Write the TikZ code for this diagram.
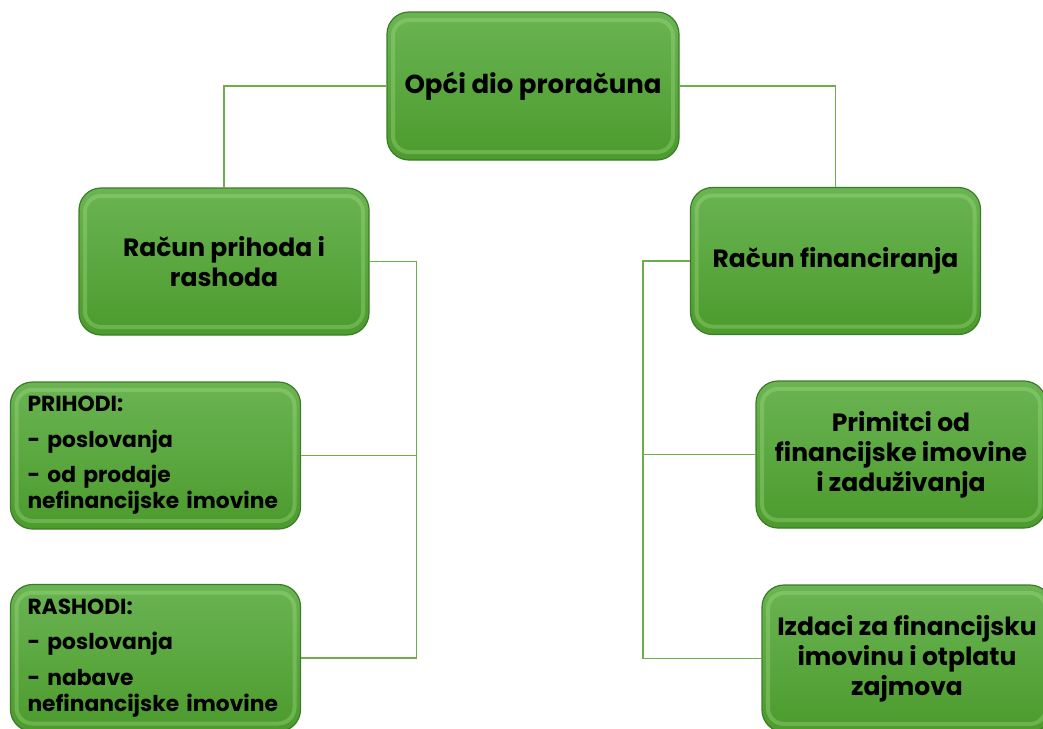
\documentclass[tikz,border=0pt]{standalone}
\usepackage{fontspec}
\setmainfont{Poppins}
\usepackage{xcolor}
\usepackage{tikz}
\usetikzlibrary{positioning,calc}

\definecolor{boxtop}{HTML}{6AB453}
\definecolor{boxbot}{HTML}{4C9B2D}
\definecolor{boxline}{HTML}{3B7D26}
\definecolor{boxrim}{HTML}{A6DE88}
\definecolor{linkgreen}{HTML}{6DAD4A}

\tikzset{
  box/.style={rounded corners=11pt, draw=boxline, line width=0.6pt,
    top color=boxtop, bottom color=boxbot, text=black, align=center,
    minimum width=145pt, minimum height=73.5pt,
    font=\bfseries\fontsize{12.5}{15}\selectfont,
    path picture={\draw[boxrim, opacity=0.35, line width=2pt, rounded corners=8pt]
      ([shift={(3pt,-4pt)}]path picture bounding box.north west) rectangle
      ([shift={(-3pt,4pt)}]path picture bounding box.south east);}},
  topbox/.style={box, minimum width=146pt, minimum height=74pt,
    font=\bfseries\fontsize{13}{16}\selectfont},
  listbox/.style={box, align=left, text width=128pt, inner xsep=8.5pt,
    font=\bfseries\fontsize{10.9}{13.2}\selectfont},
  link/.style={draw=linkgreen, line width=0.7pt},
}

\begin{document}
\begin{tikzpicture}[x=0.5pt,y=-0.5pt]
  \useasboundingbox (0,0) rectangle (1043,728);

  \node[topbox] (opci) at (533,86) {Opći dio proračuna};

  \node[box] (rph) at (224,261.5) {Račun prihoda i\\rashoda};
  \node[box] (rfin) at (835.5,261) {Račun financiranja};

  \node[listbox] (prih) at (155.5,455.5) {PRIHODI:\\[4.5pt]- poslovanja\\[4.5pt]- od prodaje\\nefinancijske imovine};
  \node[listbox] (rash) at (155.5,658) {RASHODI:\\[4.5pt]- poslovanja\\[4.5pt]- nabave\\nefinancijske imovine};

  \node[box] (prim) at (901,454.5) {Primitci od\\financijske imovine\\i zaduživanja};
  \node[box] (izd) at (907,658.5) {Izdaci za financijsku\\imovinu i otplatu\\zajmova};

  % veze
  \draw[link] (opci.west) -| (rph.north);
  \draw[link] (opci.east) -| (rfin.north);

  \coordinate (busL) at ($(rph.east)+(47,0)$);
  \draw[link] (rph.east) -- (busL) |- (prih.east);
  \draw[link] (busL) |- (rash.east);

  \coordinate (busR) at ($(rfin.west)+(-47,0)$);
  \draw[link] (rfin.west) -- (busR) |- (prim.west);
  \draw[link] (busR) |- (izd.west);
\end{tikzpicture}
\end{document}
